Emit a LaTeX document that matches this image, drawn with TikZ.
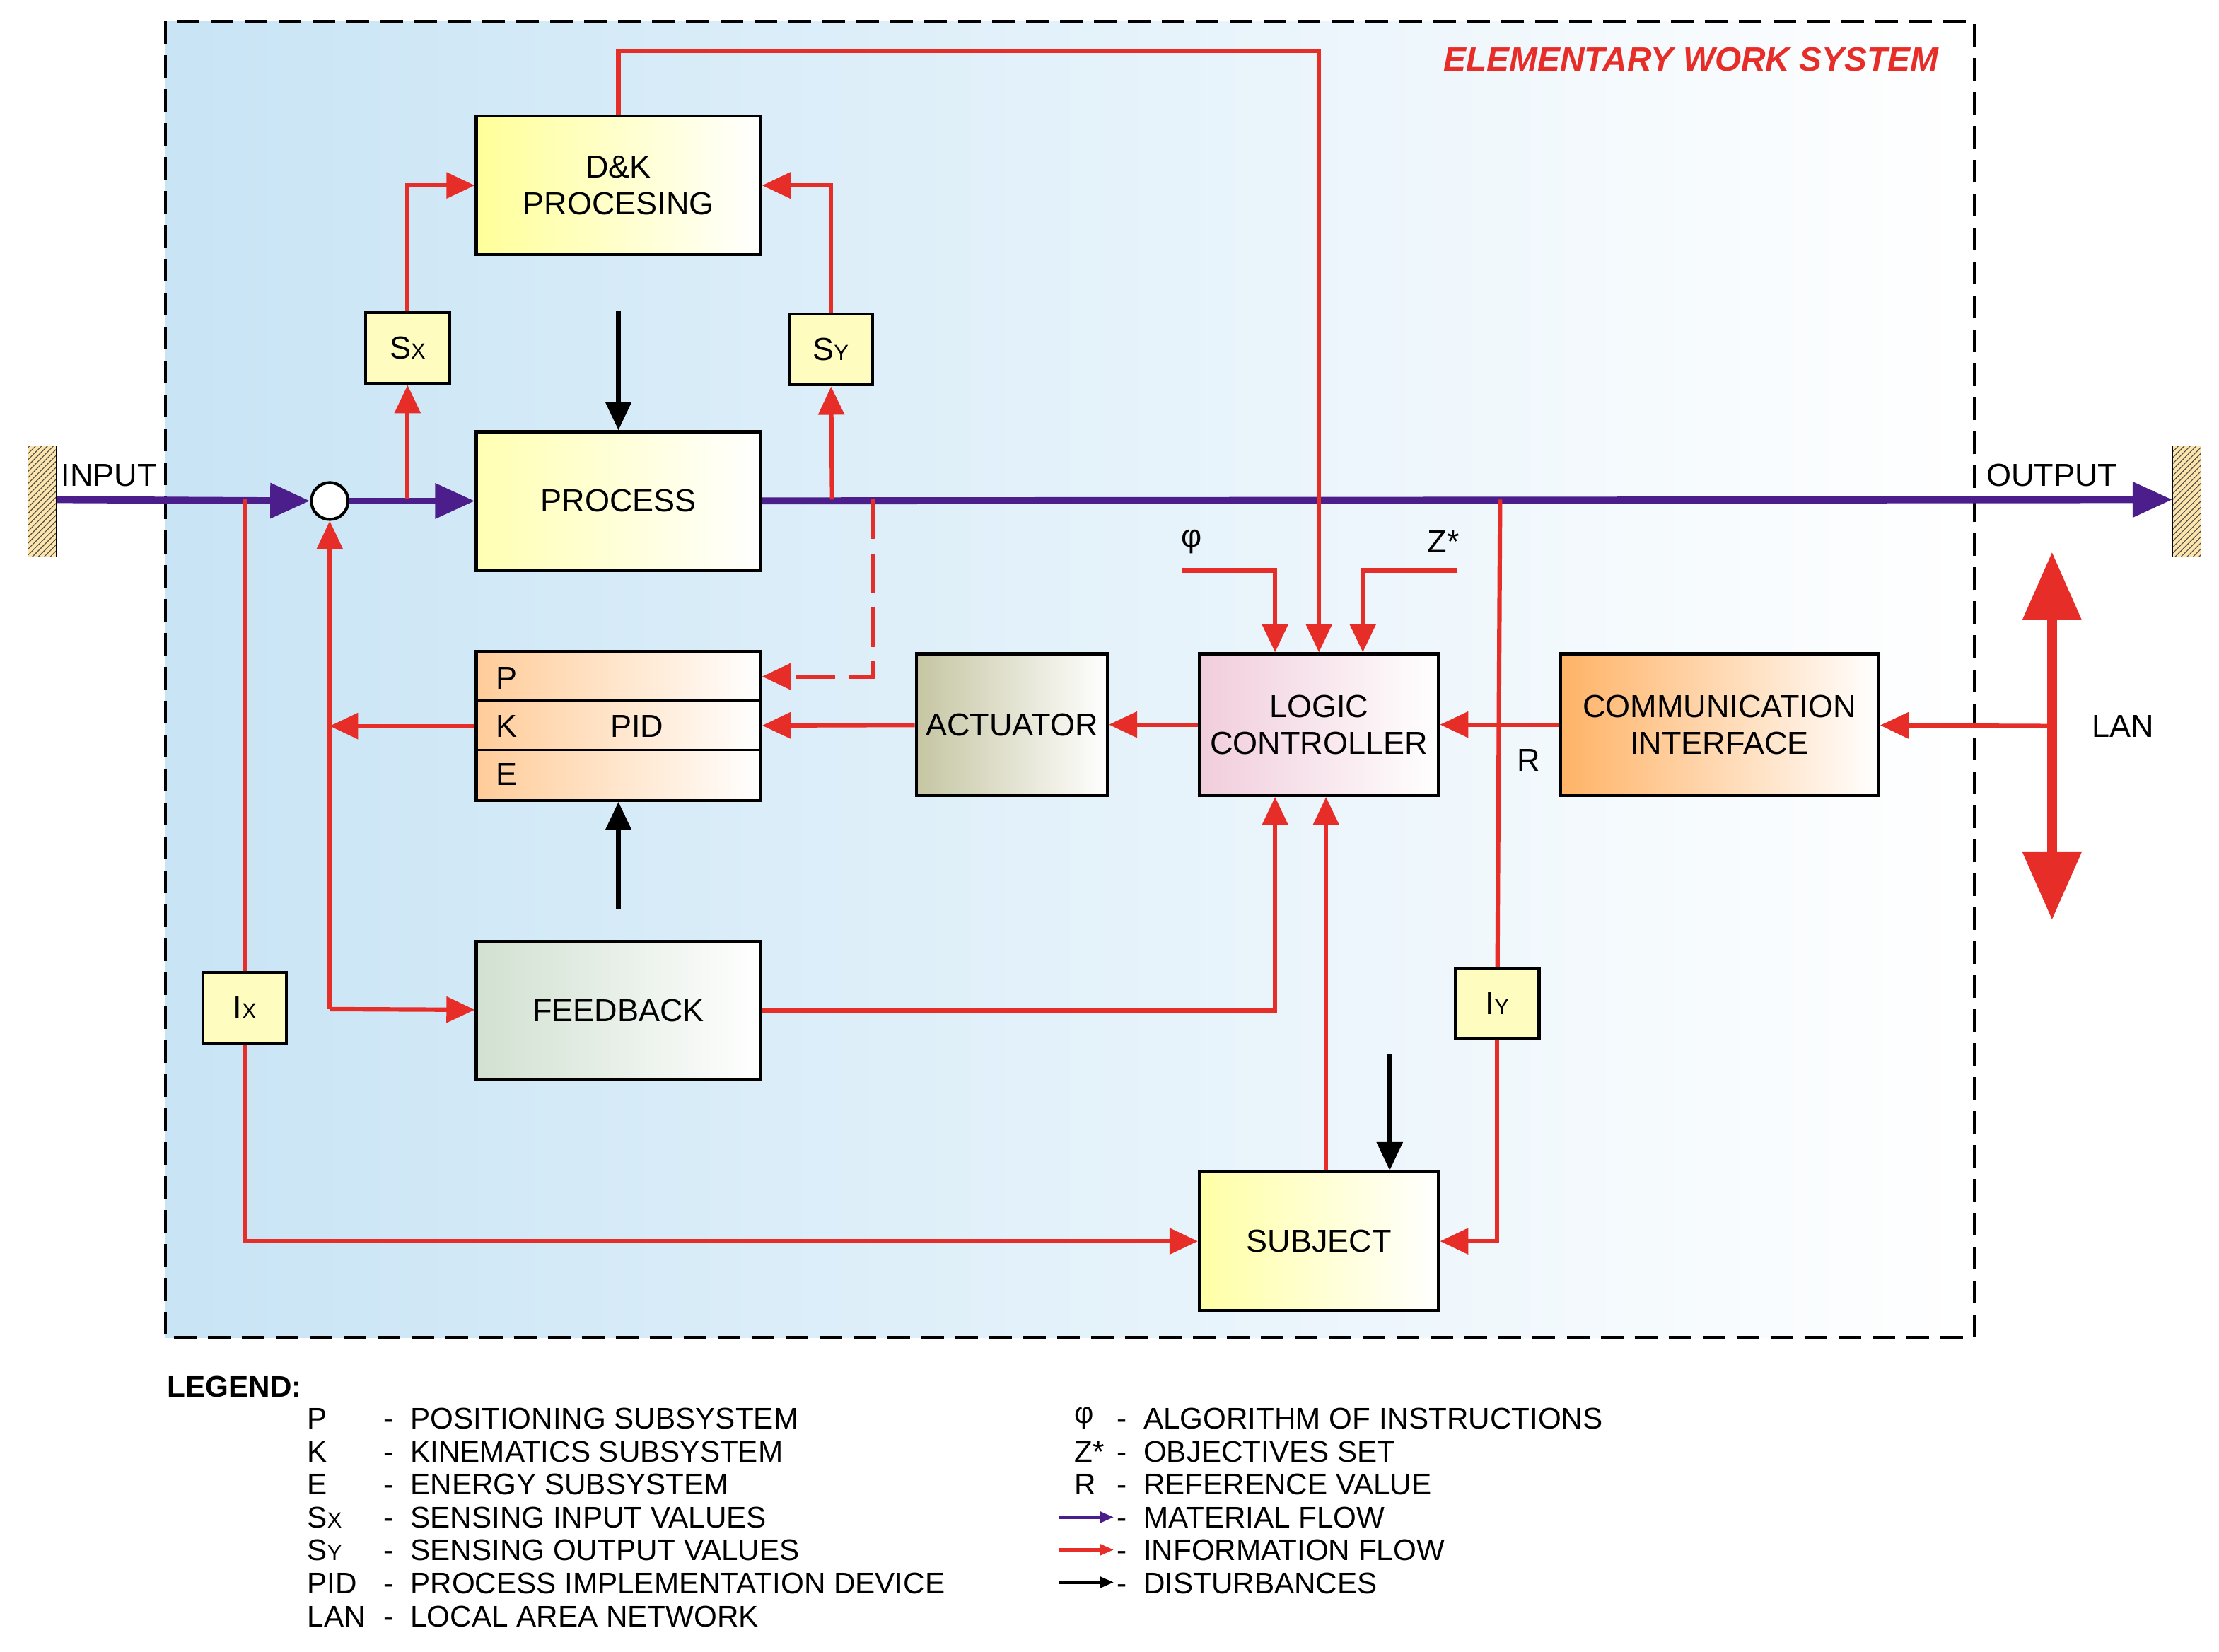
\documentclass[tikz,border=0pt]{standalone}
\usepackage{fontspec}
\setmainfont{Liberation Sans}
\usetikzlibrary{arrows.meta,patterns}
\definecolor{infored}{RGB}{230,45,40}
\definecolor{matflow}{RGB}{75,30,140}
\definecolor{bgblue}{RGB}{200,228,245}
\newcommand{\sub}[1]{{\fontsize{11}{11}\selectfont #1}}
\begin{document}
\begin{tikzpicture}[x=0.25mm,y=-0.25mm,
  font=\fontsize{16}{18.5}\selectfont,
  box/.style={draw,line width=1.5pt,align=center,inner sep=0pt},
  sens/.style={box,fill=yellow!25,minimum width=14.75mm,minimum height=12.5mm},
  info/.style={draw=infored,line width=2.2pt,-{Triangle[length=5mm,width=4.5mm]}},
  infoline/.style={draw=infored,line width=2.2pt},
  mat/.style={draw=matflow,line width=3.5pt},
  dist/.style={draw=black,line width=2.2pt,-{Triangle[length=5mm,width=4.5mm]}}]
\useasboundingbox (0,0) rectangle (1568,1167);
% background
\shade[left color=bgblue,right color=white] (117,15) rectangle (1395,945);
\draw[line width=1.5pt,dash pattern=on 4mm off 2mm] (117,15) rectangle (1395,945);
\node[text=infored,font=\fontsize{17}{19}\selectfont\bfseries\itshape] (title) at (1195,42) {ELEMENTARY WORK SYSTEM};
% walls
\fill[yellow!40!orange!30] (20,315) rectangle (40,393);
\fill[pattern=north east lines,pattern color=black!70] (20,315) rectangle (40,393);
\draw[line width=1pt] (40,315) -- (40,393);
\fill[yellow!40!orange!30] (1535,315) rectangle (1555,393);
\fill[pattern=north east lines,pattern color=black!70] (1535,315) rectangle (1555,393);
\draw[line width=1pt] (1535,315) -- (1535,393);
\coordinate (in) at (40,353);
\coordinate (out) at (1535,353);
% blocks
\node[box,left color=yellow!40,right color=white,minimum width=50.25mm,minimum height=24.5mm] (dk) at (437,131) {D\&K\\PROCESING};
\node[box,left color=yellow!30,right color=white,minimum width=50.25mm,minimum height=24.5mm] (proc) at (437,354) {PROCESS};
\node[box,left color=orange!40,right color=white,minimum width=50.25mm,minimum height=26.25mm] (pid) at (437,513) {};
\draw[line width=1pt] (337,495) -- (538,495) (337,530) -- (538,530);
\node (pidp) at (358,479) {P};
\node (pidk) at (358,513) {K};
\node (pide) at (358,547) {E};
\node (pidt) at (450,513) {PID};
\node[box,left color=olive!30!gray!45,right color=white,minimum width=33.75mm,minimum height=25mm] (act) at (715,512) {ACTUATOR};
\node[box,left color=violet!25!pink!45,right color=white,minimum width=42.25mm,minimum height=25mm] (lc) at (932,512) {LOGIC\\CONTROLLER};
\node[box,left color=orange!60,right color=white,minimum width=56.25mm,minimum height=25mm] (ci) at (1215,512) {COMMUNICATION\\INTERFACE};
\node[box,left color=green!20!gray!30,right color=white,minimum width=50.25mm,minimum height=24.5mm] (fb) at (437,714) {FEEDBACK};
\node[box,left color=yellow!35,right color=white,minimum width=42.25mm,minimum height=24.5mm] (subj) at (932,877) {SUBJECT};
\node[sens] (sx) at (288,246) {S\sub{X}};
\node[sens] (sy) at (587,247) {S\sub{Y}};
\node[sens] (ix) at (173,712) {I\sub{X}};
\node[sens] (iy) at (1058,709) {I\sub{Y}};
\node[draw,circle,fill=white,line width=1.5pt,minimum size=6.5mm,inner sep=0pt] (sum) at (233,354) {};
% material flow
\draw[mat,-{Triangle[length=7mm,width=6mm]}] (in) -- (sum);
\draw[mat,-{Triangle[length=7mm,width=6mm]}] (sum) -- (proc);
\draw[mat,-{Triangle[length=7mm,width=6mm]}] (proc) -- (out);
\node (inl) at (77,336) {INPUT};
\node (outl) at (1450,336) {OUTPUT};
% information flow
\coordinate (sxb) at (288,353);
\coordinate (syb) at (588,353);
\draw[info] (sxb) -- (sx);
\draw[info] (sx) |- (dk);
\draw[info] (syb) -- (sy);
\draw[info] (sy) |- (dk);
\coordinate (topl) at (437,36);
\draw[info] (dk) -- (topl) -| (lc);
\node (phi) at (842,383) {φ};
\node (zs) at (1020,383) {Z*};
\coordinate (phil) at (835,403);
\coordinate (zsl) at (1030,403);
\draw[info] (phil) -| (lc.north west -| 901,0);
\draw[info] (zsl) -| (lc.north east -| 963,0);
\coordinate (dsh) at (617,353);
\draw[info,dash pattern=on 7mm off 2.5mm] (dsh) |- (pid.east |- 0,478);
\draw[info] (act) -- (pid);
\draw[info] (lc) -- (act);
\draw[info] (ci) -- (lc);
\node (rl) at (1080,537) {R};
\coordinate (lanx) at (1450,513);
\draw[info] (lanx) -- (ci);
\coordinate (lant) at (1450,390);
\coordinate (lanb) at (1450,650);
\draw[draw=infored,line width=5pt,{Triangle[length=12mm,width=10mm]}-{Triangle[length=12mm,width=10mm]}] (lant) -- (lanb);
\node (lanl) at (1500,513) {LAN};
\coordinate (fbl) at (233,713);
\coordinate (pidl) at (233,513);
\draw[info] (pid) -- (pidl);
\draw[info] (fbl) -- (sum);
\draw[info] (fbl) -- (fb);
\draw[info] (fb) -| (lc.south -| 901,0);
\draw[info] (subj.north -| 937,0) -- (lc.south -| 937,0);
\coordinate (ixt) at (173,353);
\draw[infoline] (ixt) -- (ix);
\draw[info] (ix) |- (subj);
\coordinate (iyt) at (1060,353);
\draw[infoline] (iyt) -- (iy);
\draw[info] (iy) |- (subj);
% disturbances
\coordinate (d1) at (437,220);
\draw[dist] (d1) -- (proc);
\coordinate (d2) at (437,642);
\draw[dist] (d2) -- (pid);
\coordinate (d3) at (982,745);
\draw[dist] (d3) -- (subj.north -| 982,0);
% legend
\begin{scope}[every node/.style={anchor=west,inner sep=0pt,font=\fontsize{15}{17}\selectfont}]
\node[font=\fontsize{15}{17}\selectfont\bfseries] (leg) at (118,980) {LEGEND:};
\foreach \s/\t [count=\i] in {P/POSITIONING SUBSYSTEM,K/KINEMATICS SUBSYSTEM,E/ENERGY SUBSYSTEM,S\sub{X}/SENSING INPUT VALUES,S\sub{Y}/SENSING OUTPUT VALUES,PID/PROCESS IMPLEMENTATION DEVICE,LAN/LOCAL AREA NETWORK}
  \node (legl\i) at (217,979+23.3*\i) {\s\hspace{0pt}};
\foreach \s/\t [count=\i] in {P/POSITIONING SUBSYSTEM,K/KINEMATICS SUBSYSTEM,E/ENERGY SUBSYSTEM,S\sub{X}/SENSING INPUT VALUES,S\sub{Y}/SENSING OUTPUT VALUES,PID/PROCESS IMPLEMENTATION DEVICE,LAN/LOCAL AREA NETWORK}
  \node (legt\i) at (271,979+23.3*\i) {-\ \ \t};
\foreach \s/\t [count=\i] in {φ/ALGORITHM OF INSTRUCTIONS,Z*/OBJECTIVES SET,R/REFERENCE VALUE}
  \node (legr\i) at (759,979+23.3*\i) {\s};
\foreach \t [count=\i] in {ALGORITHM OF INSTRUCTIONS,OBJECTIVES SET,REFERENCE VALUE,MATERIAL FLOW,INFORMATION FLOW,DISTURBANCES}
  \node (legs\i) at (789,979+23.3*\i) {-\ \ \t};
\end{scope}
\coordinate (m1) at (748,1072); \coordinate (m2) at (787,1072);
\coordinate (f1) at (748,1095); \coordinate (f2) at (787,1095);
\coordinate (b1) at (748,1118); \coordinate (b2) at (787,1118);
\draw[draw=matflow,line width=1.5pt,-{Triangle[length=2.5mm,width=2mm]}] (m1) -- (m2);
\draw[draw=infored,line width=1.5pt,-{Triangle[length=2.5mm,width=2mm]}] (f1) -- (f2);
\draw[draw=black,line width=1.5pt,-{Triangle[length=2.5mm,width=2mm]}] (b1) -- (b2);
\end{tikzpicture}
\end{document}
